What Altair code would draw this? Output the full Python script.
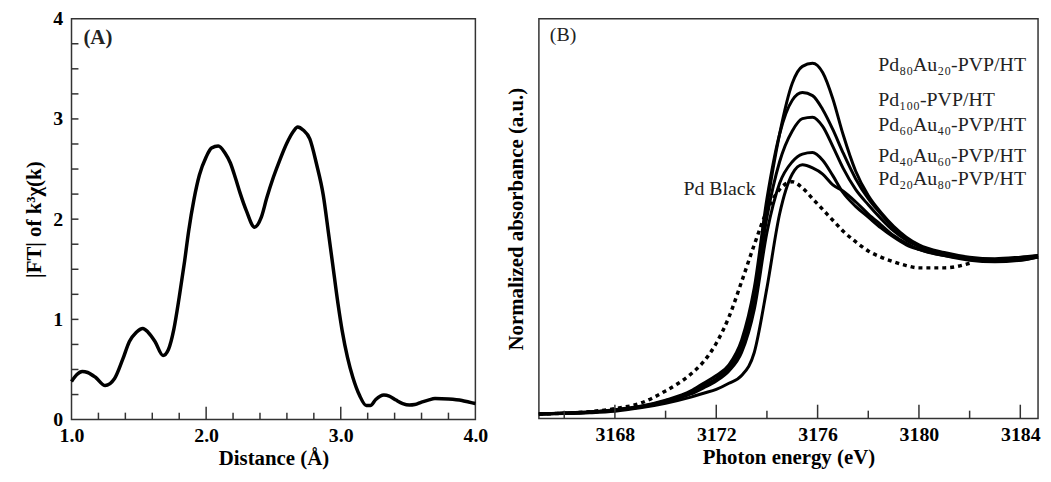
import altair as alt
import pandas as pd

FONT = "Liberation Serif"

# ---------------- Panel A data (FT magnitude) ----------------
distance = [1.0, 1.04, 1.08, 1.12, 1.18, 1.25, 1.32, 1.38, 1.43, 1.48, 1.53, 1.57,
            1.62, 1.68, 1.72, 1.76, 1.80, 1.84, 1.87, 1.91, 1.95, 2.0, 2.04, 2.09,
            2.14, 2.18, 2.22, 2.25, 2.30, 2.36, 2.41, 2.45, 2.50, 2.55, 2.60, 2.65,
            2.68, 2.72, 2.77, 2.82, 2.87, 2.91, 2.94, 2.98, 3.01, 3.05, 3.09, 3.14,
            3.19, 3.22, 3.26, 3.32, 3.36, 3.41, 3.46, 3.51, 3.55, 3.60, 3.65, 3.70,
            3.80, 3.90, 3.95, 4.0]
ft_mag = [0.38, 0.45, 0.48, 0.47, 0.42, 0.34, 0.41, 0.60, 0.78, 0.87, 0.91, 0.87,
          0.78, 0.64, 0.70, 0.90, 1.22, 1.58, 1.88, 2.20, 2.44, 2.62, 2.71, 2.73,
          2.66, 2.56, 2.40, 2.27, 2.08, 1.92, 2.02, 2.21, 2.42, 2.60, 2.76, 2.88,
          2.92, 2.89, 2.80, 2.55, 2.24, 1.85, 1.55, 1.15, 0.89, 0.62, 0.42, 0.24,
          0.14, 0.14, 0.20, 0.245, 0.235, 0.195, 0.16, 0.145, 0.15, 0.175, 0.195, 0.21,
          0.205, 0.19, 0.175, 0.16]

a_x_major_ticks = [2.0, 3.0]
a_x_minor_ticks = [1.2, 1.4, 1.6, 1.8, 2.2, 2.4, 2.6, 2.8, 3.2, 3.4, 3.6, 3.8]
a_y_ticks = [0.25, 0.5, 0.75, 1.0, 1.25, 1.5, 1.75, 2.0, 2.25, 2.5, 2.75,
             3.0, 3.25, 3.5, 3.75]

# ---------------- Panel B data (XANES) ----------------
energy = [3165, 3166, 3167, 3168, 3169, 3170, 3171, 3171.5, 3172, 3172.5, 3173,
          3173.5, 3174, 3174.5, 3175, 3175.4, 3175.8, 3176.2, 3176.6, 3177, 3177.5,
          3178, 3178.5, 3179, 3179.5, 3180, 3181, 3182, 3183, 3184, 3184.7]
pd80au20 = [0.0, 0.005, 0.012, 0.025, 0.045, 0.08, 0.135, 0.18, 0.225, 0.29, 0.43,
            0.74, 1.35, 1.82, 2.15, 2.26, 2.28, 2.22, 2.05, 1.82, 1.58,
            1.42, 1.31, 1.22, 1.15, 1.10, 1.05, 1.02, 1.01, 1.02, 1.03]
pd100 = [0.0, 0.006, 0.014, 0.028, 0.05, 0.09, 0.15, 0.20, 0.25, 0.32, 0.48,
         0.82, 1.40, 1.82, 2.04, 2.09, 2.07, 1.98, 1.85, 1.70, 1.53,
         1.40, 1.30, 1.21, 1.14, 1.09, 1.04, 1.01, 1.0, 1.01, 1.03]
pd60au40 = [0.0, 0.005, 0.012, 0.026, 0.048, 0.085, 0.14, 0.185, 0.23, 0.30, 0.44,
            0.74, 1.28, 1.64, 1.84, 1.92, 1.93, 1.87, 1.74, 1.60, 1.46,
            1.36, 1.27, 1.19, 1.13, 1.09, 1.04, 1.01, 1.0, 1.0, 1.02]
pd40au60 = [0.0, 0.005, 0.012, 0.025, 0.045, 0.08, 0.13, 0.17, 0.215, 0.28, 0.40,
            0.68, 1.18, 1.50, 1.64, 1.69, 1.70, 1.65, 1.55, 1.44, 1.35,
            1.28, 1.21, 1.15, 1.10, 1.07, 1.03, 1.00, 0.99, 1.0, 1.02]
pd20au80 = [0.0, 0.003, 0.008, 0.018, 0.04, 0.07, 0.11, 0.135, 0.16, 0.20, 0.25,
            0.40, 0.82, 1.30, 1.56, 1.62, 1.60, 1.56, 1.49, 1.45, 1.38,
            1.30, 1.23, 1.16, 1.11, 1.07, 1.03, 1.01, 1.0, 1.01, 1.02]
energy_black = [3165, 3166, 3167, 3168, 3169, 3170, 3171, 3171.5, 3172, 3172.5, 3173,
                3173.5, 3174, 3174.5, 3175, 3175.4, 3175.8, 3176.2, 3176.6, 3177, 3177.5,
                3178, 3178.5, 3179, 3179.5, 3180, 3181, 3182]
pd_black = [0.0, 0.005, 0.015, 0.035, 0.07, 0.15, 0.26, 0.34, 0.46, 0.63, 0.86,
            1.10, 1.32, 1.46, 1.51, 1.47, 1.40, 1.33, 1.26, 1.19, 1.12,
            1.06, 1.02, 0.99, 0.965, 0.95, 0.95, 0.98]

b_x_major_ticks = [3168, 3172, 3176, 3180, 3184]
b_x_minor_ticks = [3166, 3170, 3174, 3178, 3182]

series_names = ["Pd80Au20", "Pd100", "Pd60Au40", "Pd40Au60", "Pd20Au80"]
series_values = [pd80au20, pd100, pd60au40, pd40au60, pd20au80]
label_texts = ["Pd₈₀Au₂₀-PVP/HT", "Pd₁₀₀-PVP/HT", "Pd₆₀Au₄₀-PVP/HT",
               "Pd₄₀Au₆₀-PVP/HT", "Pd₂₀Au₈₀-PVP/HT"]

tick_style = dict(color="#333", strokeWidth=1.5)

# ---------------- Panel A ----------------
WA, HA = 407, 404
xA = alt.Scale(domain=[1, 4], nice=False, zero=False)
yA = alt.Scale(domain=[0, 4], nice=False, zero=False)
axA_x = alt.Axis(values=[1, 2, 3, 4], format=".1f", title="Distance (Å)",
                 labelFlush=False, labelPadding=6, titlePadding=2)
axA_y = alt.Axis(values=[0, 1, 2, 3, 4], format="d", title="|FT| of k³χ(k)",
                 labelPadding=9, titlePadding=8)

dfA = pd.DataFrame({"d": distance, "ft": ft_mag})
lineA = alt.Chart(dfA).mark_line(color="black", strokeWidth=3.5, interpolate="monotone").encode(
    x=alt.X("d:Q", scale=xA, axis=axA_x),
    y=alt.Y("ft:Q", scale=yA, axis=axA_y),
)
a_xmaj = alt.Chart(pd.DataFrame({"d": a_x_major_ticks})).mark_rule(**tick_style).encode(
    x=alt.X("d:Q", scale=xA, axis=axA_x), y=alt.value(HA), y2=alt.value(HA - 13))
a_xmin = alt.Chart(pd.DataFrame({"d": a_x_minor_ticks})).mark_rule(**tick_style).encode(
    x=alt.X("d:Q", scale=xA, axis=axA_x), y=alt.value(HA), y2=alt.value(HA - 7))
a_y = alt.Chart(pd.DataFrame({"ft": a_y_ticks})).mark_rule(**tick_style).encode(
    y=alt.Y("ft:Q", scale=yA, axis=axA_y), x=alt.value(0), x2=alt.value(7))
a_lab = alt.Chart(pd.DataFrame({"t": ["(A)"]})).mark_text(
    font=FONT, fontSize=21, fontWeight="bold", align="left", baseline="middle", color="#222"
).encode(text="t:N", x=alt.value(12), y=alt.value(19))

panelA = alt.layer(lineA, a_xmaj, a_xmin, a_y, a_lab).properties(width=WA, height=HA)

# ---------------- Panel B ----------------
WB, HB = 503, 403
xB = alt.Scale(domain=[3165, 3184.7], nice=False, zero=False)
yB = alt.Scale(domain=[-0.03, 2.57], nice=False, zero=False)
axB_x = alt.Axis(values=b_x_major_ticks, format="d", title="Photon energy (eV)",
                 labelFlush=False, labelPadding=6, titlePadding=2)
axB_y = alt.Axis(labels=False, title="Normalized absorbance (a.u.)", titlePadding=13)

rows = []
for name, vals in zip(series_names, series_values):
    for e, v in zip(energy, vals):
        rows.append({"e": e, "a": v, "s": name})
dfB = pd.DataFrame(rows)
linesB = alt.Chart(dfB).mark_line(color="black", strokeWidth=3, interpolate="monotone").encode(
    x=alt.X("e:Q", scale=xB, axis=axB_x),
    y=alt.Y("a:Q", scale=yB, axis=axB_y),
    detail="s:N",
)
dfBlack = pd.DataFrame({"e": energy_black, "a": pd_black})
blackB = alt.Chart(dfBlack).mark_line(color="black", strokeWidth=3.5, strokeDash=[4, 4],
                                      interpolate="monotone").encode(
    x=alt.X("e:Q", scale=xB, axis=axB_x), y=alt.Y("a:Q", scale=yB, axis=axB_y))
b_xmaj = alt.Chart(pd.DataFrame({"e": b_x_major_ticks})).mark_rule(**tick_style).encode(
    x=alt.X("e:Q", scale=xB, axis=axB_x), y=alt.value(HB), y2=alt.value(HB - 14))
b_xmin = alt.Chart(pd.DataFrame({"e": b_x_minor_ticks})).mark_rule(**tick_style).encode(
    x=alt.X("e:Q", scale=xB, axis=axB_x), y=alt.value(HB), y2=alt.value(HB - 8))

label_y = [47, 82, 107, 138, 162]
txt_layers = []
for t, yy in zip(label_texts, label_y):
    txt_layers.append(alt.Chart(pd.DataFrame({"t": [t]})).mark_text(
        font=FONT, fontSize=20, align="left", baseline="middle", color="#222"
    ).encode(text="t:N", x=alt.value(342), y=alt.value(yy)))
txt_layers.append(alt.Chart(pd.DataFrame({"t": ["Pd Black"]})).mark_text(
    font=FONT, fontSize=20, align="center", baseline="middle", color="#222"
).encode(text="t:N", x=alt.value(182), y=alt.value(172)))
txt_layers.append(alt.Chart(pd.DataFrame({"t": ["(B)"]})).mark_text(
    font=FONT, fontSize=20, align="left", baseline="middle", color="#222"
).encode(text="t:N", x=alt.value(11), y=alt.value(16)))

panelB = alt.layer(linesB, blackB, b_xmaj, b_xmin, *txt_layers).properties(width=WB, height=HB)

chart = alt.hconcat(panelA, panelB, spacing=15).properties(
    padding={"left": 15, "top": -2, "right": -2, "bottom": -1}
).configure_view(stroke="#333", strokeWidth=1.5).configure_axis(
    labelFont=FONT, titleFont=FONT, labelFontSize=20, titleFontSize=21,
    labelFontWeight="bold", titleFontWeight="bold", ticks=False, domain=False,
    grid=False, labelColor="black", titleColor="black"
)

chart.save("out.html", embed_options={"renderer": "svg", "actions": False})
